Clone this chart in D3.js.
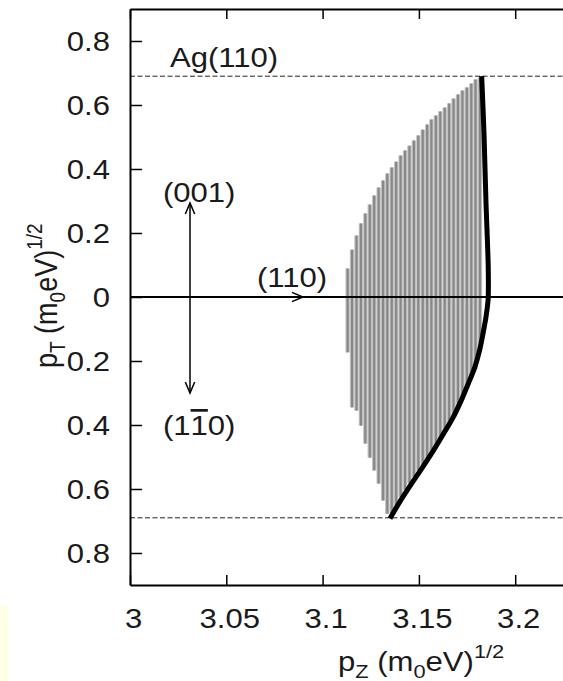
<!DOCTYPE html>
<html>
<head>
<meta charset="utf-8">
<script src="https://cdn.jsdelivr.net/npm/d3@7"></script>
<style>
  body { margin: 0; background: #fff; }
  svg { display: block; font-family: "Liberation Sans", Arial, sans-serif; }
</style>
</head>
<body>
<div id="canvas"></div>
<script>
"use strict"

let svgWidth = 563;
let svgHeight = 681;
let plotLeft = 130, plotTop = 9, plotBottom = 585;
let fontSize = 27;
let stretch = 1.15; // the picture's text is a bit wide

/* data */
let xTicks = [3, 3.05, 3.1, 3.15, 3.2];
let yTicks = [-0.8, -0.6, -0.4, -0.2, 0, 0.2, 0.4, 0.6, 0.8];
let surfaceEdge = 0.69; // dashed Ag(110) lines

// grey hatch: one vertical bar per pZ value
let barX = [3.1130, 3.1153, 3.1176, 3.1199, 3.1222, 3.1245, 3.1268, 3.1291, 3.1314, 3.1336,
            3.1359, 3.1382, 3.1405, 3.1428, 3.1451, 3.1474, 3.1497, 3.1520, 3.1543, 3.1565,
            3.1588, 3.1611, 3.1634, 3.1657, 3.1680, 3.1703, 3.1726, 3.1749, 3.1772, 3.1794, 3.1817];
let barTop = [0.089, 0.148, 0.192, 0.230, 0.261, 0.289, 0.317, 0.342, 0.364, 0.386,
              0.405, 0.423, 0.442, 0.458, 0.473, 0.489, 0.505, 0.523, 0.539, 0.555,
              0.567, 0.580, 0.592, 0.605, 0.620, 0.633, 0.645, 0.655, 0.667, 0.680, 0.686];
let barBottom = [-0.173, -0.345, -0.355, -0.402, -0.458, -0.502, -0.542, -0.583, -0.636, -0.677,
                 -0.675, -0.650, -0.625, -0.603, -0.582, -0.563, -0.543, -0.524, -0.504, -0.485,
                 -0.465, -0.443, -0.420, -0.397, -0.373, -0.348, -0.320, -0.289, -0.255, -0.223, -0.167];

// black boundary curve
let curveZ = [3.1826, 3.1838, 3.1848, 3.1860, 3.1860, 3.1859, 3.1848, 3.1833, 3.1815, 3.1790,
              3.1757, 3.1720, 3.1677, 3.1628, 3.1575, 3.1518, 3.1460, 3.1403, 3.1350];
let curveT = [0.690, 0.511, 0.302, 0.092, 0.0, -0.011, -0.064, -0.114, -0.167, -0.220,
              -0.270, -0.323, -0.377, -0.427, -0.480, -0.533, -0.585, -0.638, -0.692];

let svg = d3.select("#canvas")
    .append("svg")
    .attr("width", svgWidth)
    .attr("height", svgHeight);

/* pale strip at the lower left edge */
svg.append("rect")
    .attr("x", 0).attr("y", 605)
    .attr("width", 8).attr("height", 76)
    .attr("fill", "#ffffe6");

/* Scales */
let xScale = d3.scaleLinear()
    .domain([3, 3.225])
    .range([plotLeft, plotLeft + 0.225 / 0.05 * 96.3]);

let yScale = d3.scaleLinear()
    .domain([-0.9, 0.9])
    .range([plotBottom, plotTop]);

// text that is a little stretched sideways, like the scan
function label(x, y, anchor) {
    return svg.append("text")
        .attr("transform", "translate(" + x + "," + y + ") scale(" + stretch + ",1)")
        .attr("text-anchor", anchor || "start")
        .attr("font-size", fontSize)
        .attr("fill", "#1a1a1a");
}

/* Bars */
let bars = svg.append("g");
bars.selectAll("rect.back")
    .data(barX)
    .join("rect")
    .attr("class", "back")
    .attr("x", d => xScale(d) - 2.2)
    .attr("width", 4.4)
    .attr("y", (d, i) => yScale(barTop[i]))
    .attr("height", (d, i) => yScale(barBottom[i]) - yScale(barTop[i]))
    .attr("fill", "#c2c2c2");
bars.selectAll("line.front")
    .data(barX)
    .join("line")
    .attr("class", "front")
    .attr("x1", d => xScale(d)).attr("x2", d => xScale(d))
    .attr("y1", (d, i) => yScale(barTop[i]))
    .attr("y2", (d, i) => yScale(barBottom[i]))
    .attr("stroke", "#888")
    .attr("stroke-width", 2.2);

/* dashed lines */
[surfaceEdge, -surfaceEdge].forEach(v => {
    svg.append("line")
        .attr("x1", plotLeft).attr("x2", svgWidth)
        .attr("y1", yScale(v)).attr("y2", yScale(v))
        .attr("stroke", "#222")
        .attr("stroke-width", 1)
        .attr("stroke-dasharray", "5,2.5");
});

/* zero line */
svg.append("line")
    .attr("x1", plotLeft).attr("x2", svgWidth)
    .attr("y1", yScale(0)).attr("y2", yScale(0))
    .attr("stroke", "#000")
    .attr("stroke-width", 2);

/* black curve */
let line = d3.line()
    .x((d, i) => xScale(curveZ[i]))
    .y((d, i) => yScale(curveT[i]))
    .curve(d3.curveCatmullRom);
svg.append("path")
    .datum(curveZ)
    .attr("d", line)
    .attr("fill", "none")
    .attr("stroke", "#000")
    .attr("stroke-width", 5);

/* Axes */
let xBottom = d3.axisBottom(xScale).tickValues(xTicks).tickSizeInner(-10).tickSizeOuter(0)
    .tickFormat(d3.format("~g"));
let gx = svg.append("g")
    .attr("transform", "translate(0," + plotBottom + ")")
    .call(xBottom);
gx.select(".domain").attr("stroke-width", 2);
gx.selectAll(".tick line").attr("stroke-width", 1.5);
gx.selectAll(".tick text")
    .attr("font-size", fontSize)
    .attr("font-family", "Liberation Sans, Arial, sans-serif")
    .attr("fill", "#1a1a1a")
    .attr("dy", 0)
    .attr("y", 43)
    .attr("x", 3 / stretch)
    .attr("transform", "scale(" + stretch + ",1)");

let xTop = d3.axisTop(xScale).tickValues(xTicks).tickSizeInner(-10).tickSizeOuter(0).tickFormat("");
let gt = svg.append("g")
    .attr("transform", "translate(0," + plotTop + ")")
    .call(xTop);
gt.select(".domain").attr("stroke-width", 2);
gt.selectAll(".tick line").attr("stroke-width", 1.5);

let yLeft = d3.axisLeft(yScale).tickValues(yTicks).tickSizeInner(-12).tickSizeOuter(0)
    .tickFormat(d => d === 0 ? "0" : String(Math.abs(d)));
let gy = svg.append("g")
    .attr("transform", "translate(" + plotLeft + ",0)")
    .call(yLeft);
gy.select(".domain").attr("stroke-width", 2);
gy.selectAll(".tick line").attr("stroke-width", 1.5);
gy.selectAll(".tick text")
    .attr("font-size", fontSize)
    .attr("font-family", "Liberation Sans, Arial, sans-serif")
    .attr("fill", "#1a1a1a")
    .attr("x", -20 / stretch)
    .attr("dy", "0.36em")
    .attr("transform", "scale(" + stretch + ",1)");

/* Axis titles */
let xt = svg.append("text")
    .attr("transform", "translate(338,671) scale(" + stretch + ",1)")
    .attr("font-size", fontSize)
    .attr("fill", "#1a1a1a");
xt.append("tspan").text("p");
xt.append("tspan").attr("font-size", 19).attr("dy", 7).text("Z");
xt.append("tspan").attr("dy", -7).text(" (m");
xt.append("tspan").attr("font-size", 19).attr("dy", 7).text("0");
xt.append("tspan").attr("dy", -7).text("eV)");
xt.append("tspan").attr("font-size", 19).attr("dy", -13).text("1/2");

let yt = svg.append("text")
    .attr("transform", "translate(57,368) rotate(-90) scale(1," + stretch + ")")
    .attr("font-size", fontSize)
    .attr("fill", "#1a1a1a");
yt.append("tspan").text("p");
yt.append("tspan").attr("font-size", 19).attr("dy", 7).text("T");
yt.append("tspan").attr("dy", -7).text(" (m");
yt.append("tspan").attr("font-size", 19).attr("dy", 7).text("0");
yt.append("tspan").attr("dy", -7).text("eV)");
yt.append("tspan").attr("font-size", 19).attr("dy", -13).text("1/2");

/* Annotations */
label(170, 67).text("Ag(110)");
label(163, 202).text("(001)");
label(257, 287).text("(110)");
let lab = label(163, 435);
lab.append("tspan").text("(1");
lab.append("tspan").style("text-decoration", "overline").text("1");
lab.append("tspan").text("0)");

// arrows
function arrow(x1, y1, x2, y2) {
    svg.append("line")
        .attr("x1", x1).attr("y1", y1).attr("x2", x2).attr("y2", y2)
        .attr("stroke", "#000").attr("stroke-width", 1.5);
    let a = Math.atan2(y2 - y1, x2 - x1);
    let len = 12, spread = 0.4;
    svg.append("path")
        .attr("d", "M" + (x2 - len * Math.cos(a - spread)) + "," + (y2 - len * Math.sin(a - spread)) +
            "L" + x2 + "," + y2 +
            "L" + (x2 - len * Math.cos(a + spread)) + "," + (y2 - len * Math.sin(a + spread)))
        .attr("fill", "none")
        .attr("stroke", "#000")
        .attr("stroke-width", 1.5);
}
arrow(190, yScale(0), 190, 203);
arrow(190, yScale(0), 190, 393);
arrow(280, yScale(0), 303, yScale(0));
</script>
</body>
</html>
